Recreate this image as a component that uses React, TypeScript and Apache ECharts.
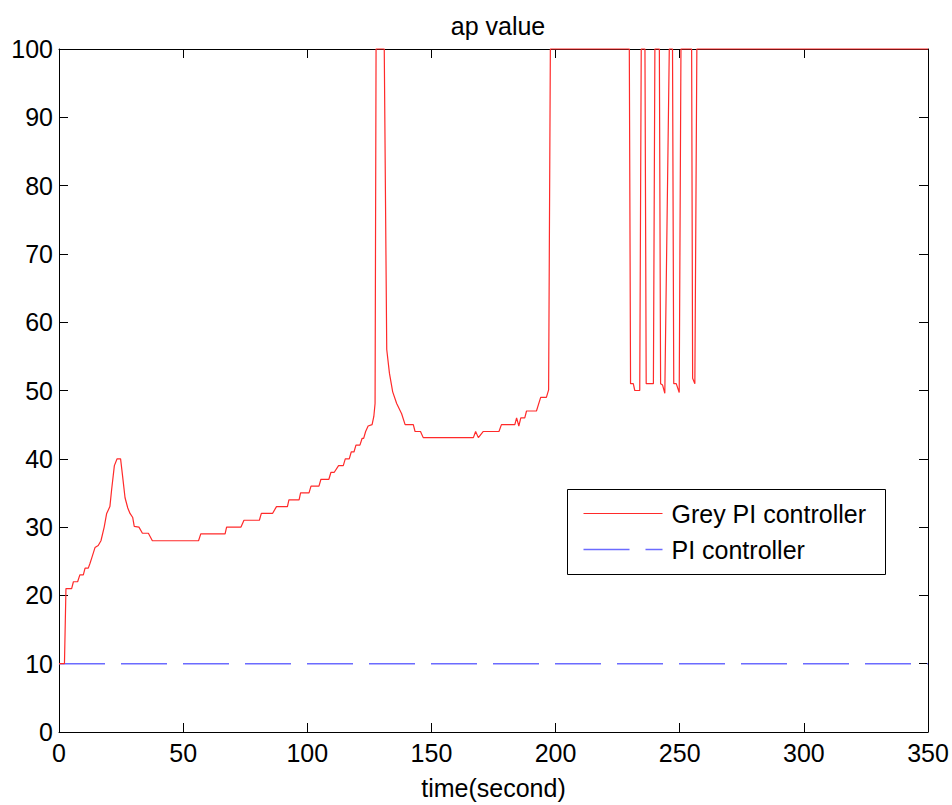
import React, { useEffect, useRef } from "react";
import * as echarts from "echarts";

const titleText = "ap value";
const xAxisName = "time(second)";
const seriesNames = ["Grey PI controller", "PI controller"];

// Grey PI controller trace (time in s, ap value)
const greyTime = [
  0, 2.2, 2.8, 5.1, 5.8, 7.5, 8.4, 9.8, 10.5, 11.8, 12.5, 13.2, 14.5, 15.8, 16.9, 18.2, 19.2, 20.5, 21.2, 22.3, 23.4, 24.8,
  25.6, 26.6, 27.7, 28.6, 29.7, 30.3, 32.2, 33.6, 36.0, 37.6, 56.2,
  57.1, 66.9, 67.5, 73.3, 74.5, 80.7, 81.5, 86.0, 87.6, 92.0, 92.6, 96.7, 97.3, 100.7, 101.5, 104.7, 105.5, 108.7, 109.5, 110.8,
  112.6, 114.5, 115.3, 116.9, 117.7, 118.8, 119.6, 121.2, 122.1, 122.7, 123.5, 124.5, 126.1, 126.8, 127.3,
  127.7, 131.0, 132.0, 133.1, 134.4, 136.0, 138.0, 139.4, 142.7, 143.4, 145.6, 146.7, 166.9, 167.8, 168.9, 170.9, 177.2, 178.2,
  183.6, 184.3, 185.2, 186.0, 187.6, 188.3, 192.3, 194.0, 196.3, 197.2, 197.9,
  229.7, 230.2, 231.3, 231.9, 233.9, 234.5,
  236.0, 236.5, 239.4, 240.0,
  241.8, 242.3, 243.1, 244.0, 245.8,
  247.1, 247.6, 248.6, 249.8, 250.5,
  254.8, 255.2, 256.1, 256.9,
  350,
];
const greyValue = [
  10, 10, 21, 21, 22, 22, 23, 23, 24, 24, 24.7, 25.5, 27, 27.3, 28, 30, 32, 33, 35.5, 39, 40, 40,
  37.5, 34.3, 32.8, 32, 31.4, 30.1, 30, 29.1, 29.1, 28, 28,
  29, 29, 30, 30, 31, 31, 32, 32, 33, 33, 34, 34, 35, 35, 36, 36, 37, 37, 38, 38,
  39, 39, 40, 40, 41, 41, 42, 42, 43, 43, 44, 44.8, 45, 46.2, 48.1,
  100, 100, 56, 52.5, 49.8, 48.1, 46.6, 45, 45, 44, 44, 43.1, 43.1, 44, 43.1, 44, 44, 45,
  45, 46, 44.8, 46, 46, 47, 47, 49, 49, 50.1, 100,
  100, 51, 51, 50, 50, 100,
  100, 51, 51, 100,
  100, 51, 50.8, 49.6, 100,
  100, 51, 51, 49.7, 100,
  100, 51.8, 51, 100,
  100,
];

// PI controller trace
const piTime = [0, 350];
const piValue = [10, 10];

const xTicks = { min: 0, max: 350, interval: 50 };
const yTicks = { min: 0, max: 100, interval: 10 };

const FONT = "Liberation Sans, Arial, sans-serif";
const RED = "#ff2a2a";
const BLUE = "#6b6bff";

export default function App() {
  const ref = useRef<HTMLDivElement>(null);
  useEffect(() => {
    if (!ref.current) return;
    const chart = echarts.init(ref.current, undefined, { renderer: "svg" });
    const grey = greyTime.map((t, i) => [t, greyValue[i]]);
    const pi = piTime.map((t, i) => [t, piValue[i]]);
    const axisCommon = {
      axisLine: { show: true, onZero: false, lineStyle: { color: "#000", width: 1 } },
      axisTick: { show: true, inside: true, length: 9, lineStyle: { color: "#000", width: 1 } },
      splitLine: { show: false },
    };
    const labelStyle = { color: "#000", fontSize: 25, fontFamily: FONT };
    chart.setOption({
      animation: false,
      backgroundColor: "#fff",
      title: {
        text: titleText,
        left: 493,
        top: 8,
        textAlign: "center",
        textStyle: { color: "#000", fontSize: 25, fontWeight: "normal", fontFamily: FONT },
      },
      grid: { left: 59, top: 49, right: 24, bottom: 73, containLabel: false, outerBoundsMode: "none" },
      xAxis: [
        {
          type: "value",
          position: "bottom",
          ...xTicks,
          ...axisCommon,
          name: xAxisName,
          nameLocation: "middle",
          nameGap: 43,
          nameTextStyle: labelStyle,
          axisLabel: { ...labelStyle, margin: 8 },
        },
        {
          type: "value",
          position: "top",
          ...xTicks,
          ...axisCommon,
          axisLabel: { show: false },
        },
      ],
      yAxis: [
        {
          type: "value",
          position: "left",
          ...yTicks,
          ...axisCommon,
          axisLabel: { ...labelStyle, margin: 6 },
        },
        {
          type: "value",
          position: "right",
          ...yTicks,
          ...axisCommon,
          axisLabel: { show: false },
        },
      ],
      series: [
        {
          name: seriesNames[0],
          type: "line",
          data: grey,
          xAxisIndex: 0,
          yAxisIndex: 0,
          showSymbol: false,
          symbol: "none",
          clip: false,
          lineStyle: { color: RED, width: 1.2 },
          z: 3,
        },
        {
          name: seriesNames[1],
          type: "line",
          data: pi,
          xAxisIndex: 0,
          yAxisIndex: 0,
          showSymbol: false,
          symbol: "none",
          lineStyle: { color: BLUE, width: 1.4, type: [46, 16] },
          z: 2,
        },
      ],
      graphic: [
        {
          type: "group",
          left: 567,
          top: 489,
          children: [
            { type: "rect", shape: { x: 0, y: 0, width: 318, height: 85 }, style: { fill: "#fff", stroke: "#000", lineWidth: 1 } },
            { type: "line", shape: { x1: 16, y1: 24, x2: 95, y2: 24 }, style: { stroke: RED, lineWidth: 1.2 } },
            { type: "text", x: 104, y: 24, style: { text: seriesNames[0], fontSize: 25, fontFamily: FONT, fill: "#000", verticalAlign: "middle" } },
            { type: "line", shape: { x1: 16, y1: 60, x2: 95, y2: 60 }, style: { stroke: BLUE, lineWidth: 1.4, lineDash: [46, 16] } },
            { type: "text", x: 104, y: 60, style: { text: seriesNames[1], fontSize: 25, fontFamily: FONT, fill: "#000", verticalAlign: "middle" } },
          ],
        },
      ],
    });
    return () => chart.dispose();
  }, []);
  return <div ref={ref} style={{ position: "absolute", left: 0, top: 0, width: 952, height: 805 }} />;
}
